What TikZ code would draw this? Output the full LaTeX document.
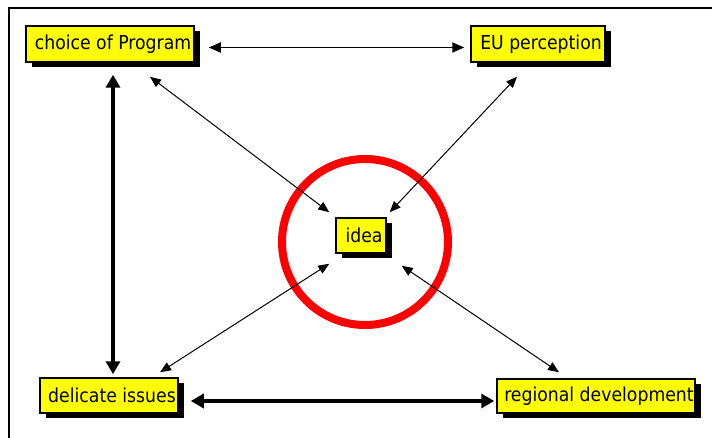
\documentclass[tikz,border=0pt]{standalone}
\usepackage{fontspec}
\setmainfont{DejaVu Sans Condensed}
\usetikzlibrary{shadows,arrows.meta,calc}
\definecolor{boxyellow}{RGB}{255,255,0}
\definecolor{ringred}{RGB}{255,0,0}
\tikzset{
  item/.style={draw=black, line width=1.5pt, fill=boxyellow, inner sep=0pt,
    font=\fontsize{19.2}{23}\selectfont, execute at begin node={\hspace*{6pt}},
    drop shadow={shadow xshift=6pt, shadow yshift=-5pt, opacity=1, fill=black}},
  thinlink/.style={line width=1pt, {Triangle[length=11pt,width=9pt]}-{Triangle[length=11pt,width=9pt]}},
  midlink/.style={line width=1.8pt, {Triangle[length=12pt,width=10pt]}-{Triangle[length=12pt,width=10pt]}},
  thicklink/.style={line width=4.5pt, {Triangle[length=13pt,width=14pt]}-{Triangle[length=13pt,width=14pt]}},
}
\begin{document}
\begin{tikzpicture}[x=1pt,y=-1pt]
\useasboundingbox (0,0) rectangle (712,438);
\clip (0,0) rectangle (712,438);
\fill[white] (0,0) rectangle (712,438);
\draw[line width=2pt] (8.5,8.5) rectangle (760,480);

\draw[ringred, line width=8pt] (365,242) circle[radius=83];

\node[item, minimum width=168pt, minimum height=36pt] (choice) at (110,44) {choice of Program};
\node[item, minimum width=134pt, minimum height=36pt] (eu) at (538,44) {EU perception};
\node[item, minimum width=138pt, minimum height=35pt] (delicate) at (109,395.5) {delicate issues};
\node[item, minimum width=198pt, minimum height=34pt] (regional) at (596,396) {regional development};
\node[item, minimum width=50pt, minimum height=35pt] (idea) at (361,235.5) {idea};

\draw[midlink] ($(choice.east)+(14,3.5)$) -- ($(eu.west)+(-6,3.5)$);
\draw[thicklink] ($(choice.south)+(3,12)$) -- ($(delicate.north)+(4,-3)$);
\draw[thicklink] ($(delicate.east)+(12,5.5)$) -- ($(regional.west)+(-2,5)$);

\draw[thinlink] ($(choice.south)+(40,14)$) -- ($(idea.north west)+(-6,-5)$);
\draw[thinlink] ($(eu.south)+(-21,14)$) -- ($(idea.north east)+(3,-5)$);
\draw[thinlink] ($(delicate.north)+(51,-5)$) -- ($(idea.south west)+(-6,10)$);
\draw[thinlink] ($(regional.north)+(-37,-6)$) -- ($(idea.south east)+(15,12)$);
\end{tikzpicture}
\end{document}
